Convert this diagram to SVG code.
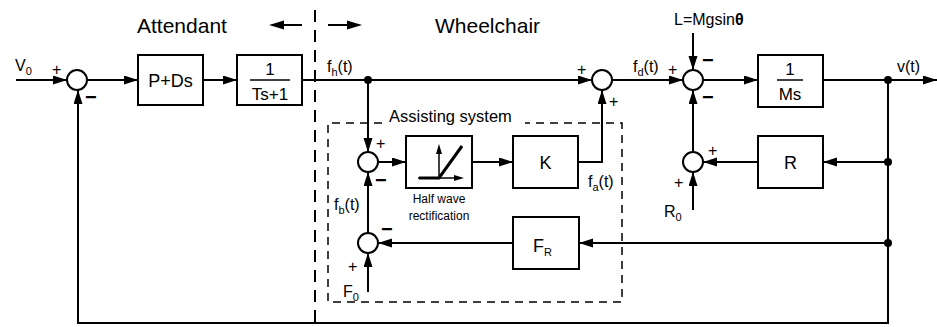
<svg xmlns="http://www.w3.org/2000/svg" width="937" height="327" viewBox="0 0 937 327">
<defs>
<marker id="ar" markerUnits="userSpaceOnUse" markerWidth="15" markerHeight="10" refX="14" refY="4.5" orient="auto"><path d="M0,0 L14,4.5 L0,9 z" fill="#000"/></marker>
<style>
.ln{fill:none;stroke:#000;stroke-width:2}
.bx{fill:#fff;stroke:#000;stroke-width:2}
.sm{fill:#fff;stroke:#000;stroke-width:2}
text{font-family:"Liberation Sans",Arial,sans-serif;fill:#000}
.big{font-size:21px}
.lb{font-size:16px}
.sg{font-size:16px}
.mn{font-size:20px;font-weight:bold}
.bt{font-size:18px;text-anchor:middle}
.sub{font-size:11px}
</style>
</defs>
<rect width="937" height="327" fill="#fff"/>
<g id="boundary">
<line x1="315" y1="10" x2="315" y2="327" stroke="#000" stroke-width="2" stroke-dasharray="12 8"/>
<text class="big" x="137" y="33">Attendant</text>
<text class="big" x="435" y="33">Wheelchair</text>
<line class="ln" x1="302" y1="25" x2="283" y2="25"/><path d="M269,25 L284,20.5 L284,29.5 z"/>
<line class="ln" x1="328" y1="25" x2="348" y2="25"/><path d="M362,25 L347,20.5 L347,29.5 z"/>
</g>
<g id="assist-frame">
<path d="M382,123 H328 V302 H622 V123 H525" fill="none" stroke="#000" stroke-width="1.5" stroke-dasharray="8 6"/>
<text x="389" y="122" style="font-size:16.5px">Assisting system</text>
</g>
<g id="connectors" class="ln">
<line x1="16" y1="80" x2="67" y2="80" marker-end="url(#ar)"/>
<line x1="87" y1="80" x2="138" y2="80" marker-end="url(#ar)"/>
<line x1="203" y1="80" x2="237" y2="80" marker-end="url(#ar)"/>
<line x1="302" y1="80" x2="592" y2="80" marker-end="url(#ar)"/>
<line x1="368" y1="80" x2="368" y2="152" marker-end="url(#ar)"/>
<line x1="378" y1="162" x2="406" y2="162" marker-end="url(#ar)"/>
<line x1="472" y1="162" x2="513" y2="162" marker-end="url(#ar)"/>
<polyline points="578,162 602,162 602,90" marker-end="url(#ar)"/>
<line x1="612" y1="80" x2="683" y2="80" marker-end="url(#ar)"/>
<line x1="693" y1="33" x2="693" y2="70" marker-end="url(#ar)"/>
<line x1="703" y1="80" x2="758" y2="80" marker-end="url(#ar)"/>
<line x1="823" y1="80" x2="937" y2="80" marker-end="url(#ar)"/>
<polyline points="888,80 888,323 78,323 78,90" marker-end="url(#ar)"/>
<line x1="888" y1="162" x2="823" y2="162" marker-end="url(#ar)"/>
<line x1="758" y1="162" x2="703" y2="162" marker-end="url(#ar)"/>
<line x1="693" y1="152" x2="693" y2="90" marker-end="url(#ar)"/>
<line x1="693" y1="210" x2="693" y2="172" marker-end="url(#ar)"/>
<line x1="888" y1="243" x2="579" y2="243" marker-end="url(#ar)"/>
<line x1="513" y1="243" x2="378" y2="243" marker-end="url(#ar)"/>
<line x1="368" y1="292" x2="368" y2="253" marker-end="url(#ar)"/>
<line x1="368" y1="233" x2="368" y2="172" marker-end="url(#ar)"/>
</g>
<g id="dots">
<circle cx="368" cy="80" r="4"/>
<circle cx="888" cy="80" r="4"/>
<circle cx="888" cy="162" r="4"/>
<circle cx="888" cy="243" r="4"/>
</g>
<g id="sum1"><circle class="sm" cx="77" cy="80" r="10"/><text class="sg" x="52" y="75">+</text><text class="mn" x="85" y="104">−</text></g>
<g id="sum2"><circle class="sm" cx="602" cy="80" r="10"/><text class="sg" x="577" y="75">+</text><text class="sg" x="609" y="107">+</text></g>
<g id="sum3"><circle class="sm" cx="368" cy="162" r="10"/><text class="sg" x="376" y="149">+</text><text class="mn" x="375" y="187">−</text></g>
<g id="sum4"><circle class="sm" cx="368" cy="243" r="10"/><text class="mn" x="381" y="236">−</text><text class="sg" x="348" y="272">+</text></g>
<g id="sum5"><circle class="sm" cx="693" cy="80" r="10"/><text class="sg" x="668" y="75">+</text><text class="mn" x="702" y="67">−</text><text class="mn" x="702" y="104">−</text></g>
<g id="sum6"><circle class="sm" cx="693" cy="162" r="10"/><text class="sg" x="708" y="156">+</text><text class="sg" x="674" y="188">+</text></g>
<g id="pd"><rect class="bx" x="138" y="55" width="65" height="50"/><text class="bt" x="170.5" y="87">P+Ds</text></g>
<g id="lag"><rect class="bx" x="237" y="55" width="65" height="50"/><text class="bt" x="270" y="75" style="font-size:17px">1</text><line x1="250" y1="80" x2="290" y2="80" stroke="#000" stroke-width="1.5"/><text class="bt" x="270" y="100" style="font-size:17px">Ts+1</text></g>
<g id="rect"><rect class="bx" x="406" y="136" width="66" height="52"/>
<line x1="439" y1="178" x2="439" y2="153" stroke="#000" stroke-width="1.5"/><path d="M439,144 L436,154 L442,154 z"/>
<line x1="418" y1="178" x2="455" y2="178" stroke="#000" stroke-width="1.5"/><path d="M464,178 L454,175 L454,181 z"/>
<polyline points="419,178 439,178 462,146" fill="none" stroke="#000" stroke-width="3"/>
<text x="439" y="203" style="font-size:12px;text-anchor:middle">Half wave</text><text x="439" y="220" style="font-size:12px;text-anchor:middle">rectification</text></g>
<g id="k"><rect class="bx" x="513" y="136" width="65" height="52"/><text class="bt" x="545.5" y="169">K</text></g>
<g id="fr"><rect class="bx" x="513" y="217" width="66" height="52"/><text x="533" y="252" style="font-size:18px">F<tspan class="sub" dy="4">R</tspan></text></g>
<g id="ms"><rect class="bx" x="758" y="55" width="65" height="52"/><text class="bt" x="790" y="75" style="font-size:17px">1</text><line x1="777" y1="80" x2="803" y2="80" stroke="#000" stroke-width="1.5"/><text class="bt" x="790" y="100" style="font-size:17px">Ms</text></g>
<g id="r"><rect class="bx" x="758" y="136" width="65" height="52"/><text class="bt" x="790.5" y="169">R</text></g>
<g id="labels" class="lb">
<text class="lb" x="15" y="71">V<tspan class="sub" dy="4">0</tspan></text>
<text class="lb" x="327" y="72">f<tspan class="sub" dy="4">h</tspan><tspan dy="-4">(t)</tspan></text>
<text class="lb" x="633" y="72">f<tspan class="sub" dy="4">d</tspan><tspan dy="-4">(t)</tspan></text>
<text class="lb" x="897" y="72">v(t)</text>
<text class="lb" x="674" y="25">L=Mgsin<tspan font-weight="bold">θ</tspan></text>
<text class="lb" x="588" y="187">f<tspan class="sub" dy="4">a</tspan><tspan dy="-4">(t)</tspan></text>
<text class="lb" x="334" y="210">f<tspan class="sub" dy="4">b</tspan><tspan dy="-4">(t)</tspan></text>
<text class="lb" x="664" y="217">R<tspan class="sub" dy="4">0</tspan></text>
<text class="lb" x="343" y="297">F<tspan class="sub" dy="4">0</tspan></text>
</g>
</svg>
